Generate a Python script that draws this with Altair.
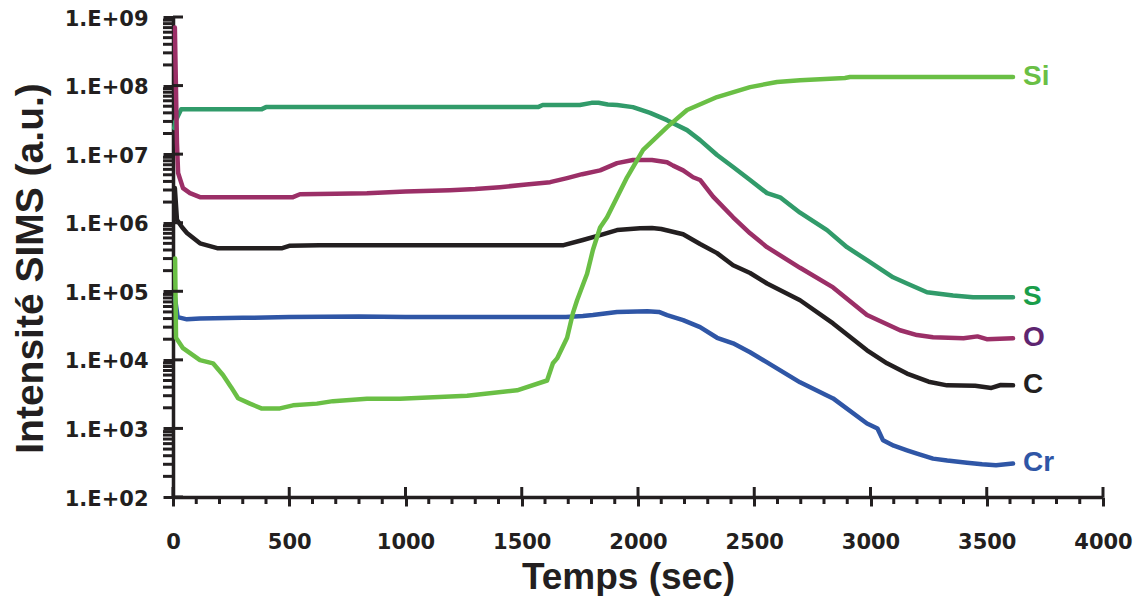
import altair as alt
import pandas as pd

# ---------------- data ----------------
time_S = [5, 10, 35, 380, 400, 1570, 1590, 1750, 1800, 1830, 1870, 1910, 1978, 2052, 2125, 2211,
          2267, 2340, 2409, 2482, 2555, 2611, 2697, 2813, 2899, 2985, 3097, 3157, 3243, 3355, 3441,
          3520, 3613]
val_S = [2.4e7, 3.0e7, 4.5e7, 4.5e7, 4.85e7, 4.85e7, 5.2e7, 5.2e7, 5.6e7, 5.6e7, 5.3e7, 5.2e7,
         4.85e7, 4.0e7, 3.13e7, 2.24e7, 1.6e7, 9.7e6, 6.5e6, 4.2e6, 2.7e6, 2.35e6, 1.4e6, 7.8e5,
         4.4e5, 2.84e5, 1.6e5, 1.3e5, 9.7e4, 8.7e4, 8.2e4, 8.2e4, 8.2e4]

time_O = [8, 17, 22, 43, 73, 116, 300, 516, 546, 700, 834, 1000, 1191, 1300, 1406, 1520, 1622,
          1695, 1760, 1837, 1910, 1978, 2060, 2125, 2151, 2194, 2237, 2267, 2323, 2409, 2482, 2555,
          2697, 2839, 2985, 3127, 3200, 3269, 3400, 3460, 3500, 3613]
val_O = [7.0e8, 1.45e7, 5.3e6, 3.2e6, 2.7e6, 2.36e6, 2.36e6, 2.36e6, 2.6e6, 2.65e6, 2.7e6, 2.85e6,
         2.98e6, 3.1e6, 3.3e6, 3.6e6, 3.9e6, 4.47e6, 5.1e6, 5.8e6, 7.4e6, 8.2e6, 8.2e6, 7.6e6,
         6.8e6, 5.8e6, 4.6e6, 4.2e6, 2.4e6, 1.2e6, 7.0e5, 4.4e5, 2.2e5, 1.14e5, 4.5e4, 2.7e4,
         2.3e4, 2.13e4, 2.06e4, 2.2e4, 2.0e4, 2.06e4]

time_C = [8, 17, 40, 60, 116, 190, 470, 500, 630, 1000, 1500, 1680, 1763, 1837, 1910, 2009, 2060,
          2100, 2194, 2267, 2340, 2409, 2482, 2555, 2697, 2839, 2985, 3071, 3157, 3250, 3329, 3450,
          3520, 3560, 3613]
val_C = [3.2e6, 1.1e6, 8.5e5, 7.1e5, 5.0e5, 4.25e5, 4.25e5, 4.6e5, 4.7e5, 4.7e5, 4.7e5, 4.7e5,
         5.6e5, 6.6e5, 7.8e5, 8.3e5, 8.4e5, 8.1e5, 6.8e5, 4.9e5, 3.6e5, 2.4e5, 1.85e5, 1.3e5,
         7.4e4, 3.4e4, 1.38e4, 8.9e3, 6.3e3, 4.8e3, 4.25e3, 4.2e3, 3.9e3, 4.3e3, 4.25e3]

time_Cr = [8, 20, 60, 116, 300, 500, 800, 1000, 1300, 1500, 1690, 1763, 1806, 1910, 2040, 2090,
           2125, 2194, 2267, 2340, 2409, 2482, 2555, 2697, 2839, 2985, 3030, 3054, 3100, 3157, 3200,
           3269, 3330, 3415, 3480, 3540, 3613]
val_Cr = [8.2e4, 4.2e4, 3.9e4, 4.0e4, 4.1e4, 4.2e4, 4.3e4, 4.2e4, 4.2e4, 4.2e4, 4.2e4, 4.35e4,
          4.5e4, 5.0e4, 5.1e4, 5.0e4, 4.5e4, 3.8e4, 3.0e4, 2.1e4, 1.74e4, 1.29e4, 9.2e3, 4.7e3,
          2.74e3, 1.18e3, 1.0e3, 670, 560, 480, 430, 363, 340, 316, 300, 290, 308]

time_Si = [9, 13, 43, 116, 172, 215, 250, 280, 331, 380, 460, 516, 619, 688, 834, 976, 1265, 1480,
           1609, 1634, 1652, 1695, 1720, 1738, 1781, 1806, 1837, 1867, 1953, 2022, 2125, 2211, 2340,
           2482, 2598, 2697, 2890, 2912, 3613]
val_Si = [3.0e5, 2.1e4, 1.48e4, 9.9e3, 8.9e3, 6.0e3, 4.0e3, 2.75e3, 2.3e3, 1.96e3, 1.96e3, 2.17e3,
          2.3e3, 2.5e3, 2.7e3, 2.7e3, 3.0e3, 3.6e3, 5.0e3, 8.9e3, 1.05e4, 2.1e4, 4.8e4, 7.4e4,
          1.8e5, 4.0e5, 8.5e5, 1.2e6, 4.6e6, 1.15e7, 2.48e7, 4.4e7, 6.8e7, 9.5e7, 1.13e8, 1.2e8,
          1.29e8, 1.33e8, 1.33e8]

series_names = ["S", "O", "C", "Cr", "Si"]
line_colors = ["#319b6a", "#9b2f67", "#231f20", "#2f56a6", "#6abf45"]
label_colors = ["#1a9e4a", "#5e2570", "#231f20", "#2f56a6", "#6abf45"]

x_major = [0, 500, 1000, 1500, 2000, 2500, 3000, 3500, 4000]
x_minor = [t for t in range(100, 4000, 100) if t % 500 != 0]
y_major = [1e2, 1e3, 1e4, 1e5, 1e6, 1e7, 1e8, 1e9]
y_minor = [m * 10 ** e for e in range(2, 9) for m in range(2, 10)]

# ---------------- chart ----------------
W, H = 930, 480
INK = "#231f20"

xs = alt.Scale(domain=[0, 4000], nice=False, zero=False)
ys = alt.Scale(type="log", domain=[1e2, 1e9], nice=False)

x_axis = alt.Axis(
    values=x_major, format="d",
    labelFont="DejaVu Sans", labelFontWeight="bold", labelFontSize=21, labelColor=INK,
    labelPadding=25, labelFlush=False, labelOverlap=False,
    tickSize=9, tickWidth=3, tickColor=INK,
    domainWidth=3.5, domainColor=INK, grid=False,
    title="Temps (sec)", titleFont="Liberation Sans", titleFontWeight="bold",
    titleFontSize=37, titleColor=INK, titleX=455, titleY=91, titleBaseline="alphabetic",
)
y_axis = alt.Axis(
    values=y_major,
    labelExpr="'1.E+0' + round(log(datum.value)/LN10)",
    labelFont="DejaVu Sans", labelFontWeight="bold", labelFontSize=21, labelColor=INK,
    labelPadding=15, labelFlush=False, labelOverlap=False, labelBaseline="middle",
    labelOffset=2,
    tickSize=10, tickWidth=3, tickColor=INK,
    domainWidth=3.5, domainColor=INK, grid=False,
    title="Intensité SIMS (a.u.)", titleFont="Liberation Sans", titleFontWeight="bold",
    titleFontSize=39, titleColor=INK, titleX=-143, titleY=251, titleBaseline="middle",
)

series = {
    "S": (time_S, val_S), "O": (time_O, val_O), "C": (time_C, val_C),
    "Cr": (time_Cr, val_Cr), "Si": (time_Si, val_Si),
}

layers = []
first = True
for name, col in zip(series_names, line_colors):
    t, v = series[name]
    df = pd.DataFrame({"t": t, "v": v})
    if first:
        xe = alt.X("t:Q", scale=xs, axis=x_axis)
        ye = alt.Y("v:Q", scale=ys, axis=y_axis)
    else:
        xe = alt.X("t:Q", scale=xs)
        ye = alt.Y("v:Q", scale=ys)
    layer = alt.Chart(df).mark_line(strokeWidth=4.5, strokeJoin="round", strokeCap="round", clip=False).encode(
        x=xe, y=ye, color=alt.value(col),
    )
    first = False
    layers.append(layer)

# minor ticks (outside) and inward parts of the major ticks
ymin = alt.Chart(pd.DataFrame({"v": y_minor})).mark_rule(strokeWidth=3, color=INK).encode(
    y=alt.Y("v:Q", scale=ys), x=alt.value(-10), x2=alt.value(0)
)
ymaj = alt.Chart(pd.DataFrame({"v": y_major})).mark_rule(strokeWidth=3, color=INK).encode(
    y=alt.Y("v:Q", scale=ys), x=alt.value(0), x2=alt.value(10)
)
xmin = alt.Chart(pd.DataFrame({"t": x_minor})).mark_rule(strokeWidth=3, color=INK).encode(
    x=alt.X("t:Q", scale=xs), y=alt.value(H), y2=alt.value(H + 7)
)
xmaj = alt.Chart(pd.DataFrame({"t": x_major})).mark_rule(strokeWidth=3, color=INK).encode(
    x=alt.X("t:Q", scale=xs), y=alt.value(H - 10), y2=alt.value(H)
)

# end labels
lab_df = pd.DataFrame({
    "name": series_names,
    "t": [series[n][0][-1] for n in series_names],
    "v": [series[n][1][-1] for n in series_names],
    "c": label_colors,
})
labels = alt.Chart(lab_df).mark_text(
    align="left", baseline="middle", dx=10, font="Liberation Sans", fontWeight="bold", fontSize=28
).encode(
    x=alt.X("t:Q", scale=xs),
    y=alt.Y("v:Q", scale=ys),
    text="name:N",
    color=alt.Color("c:N", scale=None),
)

chart = alt.layer(*layers, ymin, ymaj, xmin, xmaj, labels).properties(
    width=W, height=H,
    autosize=alt.AutoSizeParams(type="none"),
    padding={"left": 165, "top": 9, "right": 30, "bottom": 99},
    background="white",
).configure_view(stroke="transparent")

chart.save("out.html", embed_options={"renderer": "svg", "actions": False})
